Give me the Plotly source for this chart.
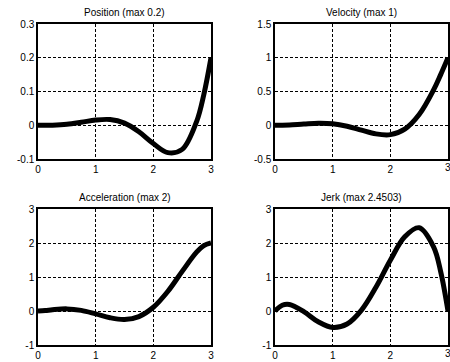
import plotly.graph_objects as go

t = [0, 0.125, 0.25, 0.5, 0.75, 1.0, 1.25, 1.5, 1.75, 2.0, 2.25, 2.5, 2.75, 2.875, 3.0]
position = [0, 0.00002, 0.00024, 0.00267, 0.00862, 0.01546, 0.01691, 0.00625, -0.01932,
            -0.05414, -0.08108, -0.07146, 0.01095, 0.09052, 0.2]
velocity = [0, 0.00055, 0.00355, 0.01699, 0.02881, 0.02149, -0.01459, -0.07292, -0.12811,
            -0.13900, -0.05713, 0.15900, 0.52391, 0.75328, 1.0]
acceleration = [0, 0.01234, 0.03611, 0.06241, 0.01953, -0.08505, -0.19947, -0.25, -0.16357,
                0.10974, 0.57417, 1.16593, 1.73048, 1.92388, 2.0]
jerk = [0, 0.1688, 0.1912, -0.01886, -0.3177, -0.4829, -0.3819, 0.02778, 0.6984,
        1.4925, 2.1823, 2.4503, 1.8887, 1.1449, 0.0]

titles = ["Position (max 0.2)", "Velocity (max 1)", "Acceleration (max 2)", "Jerk (max 2.4503)"]
series = [position, velocity, acceleration, jerk]
y_ranges = [[-0.1, 0.3], [-0.5, 1.5], [-1, 3], [-1, 3]]
y_ticks = [[-0.1, 0, 0.1, 0.2, 0.3], [-0.5, 0, 0.5, 1, 1.5], [-1, 0, 1, 2, 3], [-1, 0, 1, 2, 3]]
y_ticktext = [["-0.1", "0", "0.1", "0.2", "0.3"], ["-0.5", "0", "0.5", "1", "1.5"],
              ["-1", "0", "1", "2", "3"], ["-1", "0", "1", "2", "3"]]
x_ticks = [0, 1, 2, 3]

W, H = 450, 362
x_dom = [[38 / W, 211 / W], [275 / W, 448 / W]]
y_dom = [[1 - 159 / H, 1 - 24 / H], [1 - 345 / H, 1 - 209 / H]]

fig = go.Figure()
font = dict(family="Liberation Sans, Arial, sans-serif", size=10, color="black")
annotations = []
for i in range(4):
    r, c = divmod(i, 2)
    k = "" if i == 0 else str(i + 1)
    xa, ya = "x" + k, "y" + k
    fig.add_trace(go.Scatter(x=t, y=series[i], mode="lines",
                             line=dict(color="black", width=5, shape="spline", smoothing=1.0),
                             xaxis=xa, yaxis=ya, showlegend=False, hoverinfo="skip",
                             cliponaxis=False))
    grid = dict(showgrid=True, gridcolor="black", griddash="3px,2px", gridwidth=1,
                showline=True, linecolor="black", linewidth=1.5, mirror=True,
                zeroline=False, ticks="", tickfont=font, fixedrange=True, automargin=False)
    fig.layout["xaxis" + k] = dict(domain=x_dom[c], range=[0, 3], tickvals=x_ticks,
                                   anchor=ya, ticklabelstandoff=0, **grid)
    fig.layout["yaxis" + k] = dict(domain=y_dom[r], range=y_ranges[i], tickvals=y_ticks[i],
                                   ticktext=y_ticktext[i], anchor=xa, **grid)
    annotations.append(dict(text=titles[i], x=(x_dom[c][0] + x_dom[c][1]) / 2,
                            y=y_dom[r][1], xref="paper", yref="paper", xanchor="center",
                            yanchor="bottom", yshift=4, showarrow=False, font=font))

# last x tick label of the right-hand column sits on the page edge
for r in range(2):
    annotations.append(dict(text=str(x_ticks[-1]), x=x_dom[1][1], y=y_dom[r][0],
                            xref="paper", yref="paper", xanchor="center", yanchor="top",
                            yshift=-1, showarrow=False, font=font))

fig.update_layout(width=W, height=H, margin=dict(l=0, r=0, t=0, b=0, autoexpand=False),
                  paper_bgcolor="white", plot_bgcolor="white", annotations=annotations)
fig.write_html("out.html", config={"displayModeBar": False},
               post_script="document.body.style.margin='0';document.body.style.overflow='hidden';")
